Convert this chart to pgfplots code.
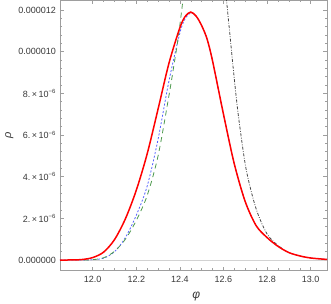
\documentclass[border=0pt]{standalone}
\usepackage{fontspec}
\setmainfont{Liberation Sans}
\usepackage{pgfplots}
\pgfplotsset{compat=1.18}
\definecolor{framegray}{rgb}{0.62,0.62,0.62}
\definecolor{ticktext}{rgb}{0.22,0.22,0.22}
\definecolor{cblue}{rgb}{0.33,0.38,1.0}
\definecolor{cgreen}{rgb}{0.30,0.60,0.30}
\definecolor{cblack}{rgb}{0.28,0.28,0.28}
\begin{document}
\begin{tikzpicture}
\path[use as bounding box] (-60pt,-33.3pt) rectangle (271pt,270.7pt);
\begin{axis}[
  at={(0,0)}, anchor=south west,
  scale only axis, width=267pt, height=270.7pt,
  xmin=11.85, xmax=13.075, ymin=-0.51, ymax=12.48,
  xtick={12.0,12.2,12.4,12.6,12.8,13.0},
  xticklabels={12.0,12.2,12.4,12.6,12.8,13.0},
  ytick={0,2,4,6,8,10,12},
  yticklabels={0.000000,{2.\,×\,10\textsuperscript{−6}},{4.\,×\,10\textsuperscript{−6}},{6.\,×\,10\textsuperscript{−6}},{8.\,×\,10\textsuperscript{−6}},0.000010,0.000012},
  minor x tick num=3, minor y tick num=4,
  tick pos=both, xticklabel pos=lower, yticklabel pos=left,
  tick align=inside,
  major tick length=4pt, minor tick length=2.5pt,
  axis line style={framegray, line width=0.6pt},
  every tick/.style={framegray, line width=0.5pt},
  tick label style={font=\fontsize{9}{10}\selectfont, text=ticktext},
  xticklabel style={yshift=-2pt},
  yticklabel style={xshift=-0.5pt},
  xlabel={\textit{φ}}, ylabel={\textit{ρ}},
  xlabel style={font=\fontsize{12}{13}\selectfont, text=ticktext, at={(axis description cs:0.51,-0.097)}, anchor=center},
  ylabel style={font=\fontsize{11}{12}\selectfont, text=ticktext, at={(axis description cs:-0.19,0.5)}, anchor=center},
]
\addplot[gray!35, line width=0.6pt] coordinates {(11.85,0) (13.075,0)};
% blue dotted
\addplot[cblue, line width=0.8pt, dash pattern=on 2pt off 1.8pt, smooth] coordinates {
(11.85,0) (11.95,0.0) (12.00,0.02) (12.05,0.09) (12.10,0.40) (12.15,1.08) (12.20,2.15) (12.25,3.55) (12.30,5.8) (12.35,8.6) (12.40,10.9) (12.425,11.6) (12.45,11.86) (12.475,11.7) (12.50,11.25) (12.525,10.6) (12.55,9.55) (12.60,7.0) (12.65,4.6) (12.70,2.8) (12.75,1.65) (12.80,1.08) (12.85,0.66) (12.90,0.36) (12.95,0.2) (13.00,0.1) (13.075,0.03)};
% green dashed
\addplot[cgreen, line width=0.8pt, dash pattern=on 5pt off 4pt, smooth] coordinates {
(11.96,0.0) (12.00,0.02) (12.05,0.11) (12.10,0.42) (12.15,1.0) (12.20,1.9) (12.25,3.1) (12.30,5.0) (12.35,7.9) (12.375,9.5) (12.39,10.5) (12.405,11.7) (12.42,13.0)};
% black dash-dot
\addplot[cblack, line width=0.8pt, dash pattern=on 3pt off 1.5pt on 0.8pt off 1.5pt, smooth] coordinates {
(12.60,14.2) (12.614,12.48) (12.629,10.88) (12.644,9.28) (12.66,7.68) (12.675,6.4) (12.705,4.3) (12.75,2.45) (12.80,1.25) (12.85,0.70) (12.87,0.56)};
% red solid
\addplot[red, line width=1.5pt, smooth] coordinates {
(11.85,0.0) (11.90,0.006) (11.95,0.025) (12.00,0.12) (12.05,0.38) (12.10,0.98) (12.15,1.98) (12.20,3.35) (12.25,5.1) (12.30,7.25) (12.35,9.45) (12.40,11.15) (12.425,11.7) (12.45,11.9) (12.475,11.7) (12.50,11.25) (12.525,10.6) (12.55,9.55) (12.60,7.0) (12.65,4.6) (12.70,2.8) (12.75,1.65) (12.80,1.08) (12.85,0.66) (12.90,0.36) (12.95,0.2) (13.00,0.1) (13.075,0.03)};
\end{axis}
\end{tikzpicture}
\end{document}
